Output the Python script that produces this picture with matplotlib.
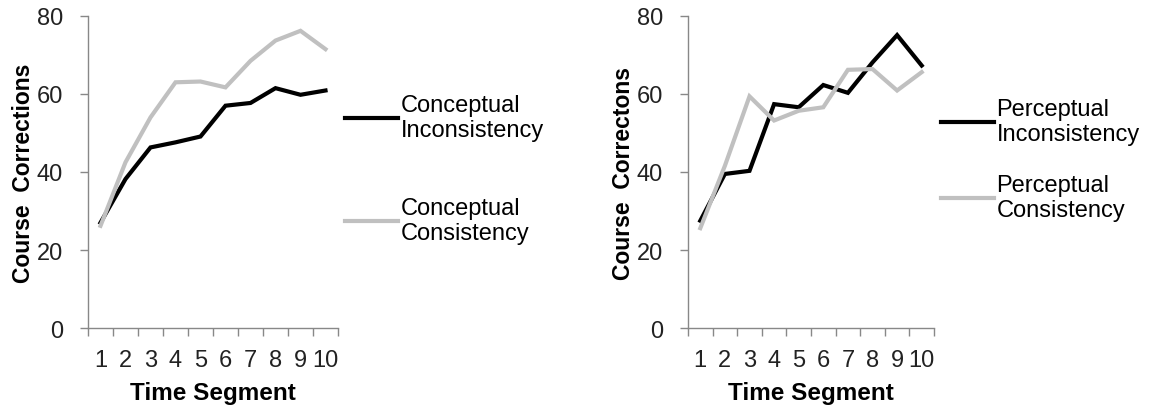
import matplotlib.pyplot as plt
import numpy as np

plt.rcParams['font.family'] = ['Liberation Sans', 'DejaVu Sans']

segments = list(range(1, 11))

concept_incons = [27, 38.2, 46.3, 47.6, 49.1, 57, 57.7, 61.5, 59.8, 60.9]
concept_cons = [26.2, 42.5, 54, 63, 63.2, 61.7, 68.5, 73.7, 76.2, 71.5]

percept_incons = [27.5, 39.5, 40.3, 57.4, 56.6, 62.3, 60.3, 68.1, 75.1, 67.3]
percept_cons = [25.6, 41.6, 59.4, 53.2, 55.7, 56.6, 66.2, 66.4, 60.9, 65.6]

panels = [
    ("Course  Corrections", concept_incons, concept_cons,
     "Conceptual\nInconsistency", "Conceptual\nConsistency", 2.35, 0.51),
    ("Course  Correctons", percept_incons, percept_cons,
     "Perceptual\nInconsistency", "Perceptual\nConsistency", 1.2, 0.54),
]

fig = plt.figure(figsize=(11.53, 4.10), dpi=100)
lefts = [88 / 1153, 688 / 1153]
widths = [250 / 1153, 246 / 1153]

for i, (ylab, black, gray, lab_b, lab_g, spacing, ycen) in enumerate(panels):
    ax = fig.add_axes([lefts[i], 1 - 329 / 410, widths[i], 312 / 410])
    ax.plot(segments, black, color='black', lw=3, label=lab_b, solid_joinstyle='miter')
    ax.plot(segments, gray, color='#c0c0c0', lw=3, label=lab_g, solid_joinstyle='miter')

    ax.set_xlim(0.5, 10.5)
    ax.set_ylim(0, 80)
    ax.set_yticks([0, 20, 40, 60, 80])
    ax.set_xticks(segments)
    ax.set_xticks(np.arange(0.5, 11, 1), minor=True)
    ax.tick_params(axis='x', which='major', length=0, pad=15, labelsize=17, labelcolor='#222222')
    ax.tick_params(axis='x', which='minor', length=6, color='#888888', width=1)
    ax.tick_params(axis='y', length=6, color='#888888', width=1, pad=12,
                   labelsize=17, labelcolor='#222222')

    for s in ['top', 'right']:
        ax.spines[s].set_visible(False)
    for s in ['left', 'bottom']:
        ax.spines[s].set_color('#888888')
        ax.spines[s].set_linewidth(1)

    ax.set_xlabel("Time Segment", fontsize=17.5, fontweight='bold', labelpad=7)
    ax.set_ylabel(ylab, fontsize=16.5, fontweight='bold', labelpad=1.5)

    ax.legend(loc='center left', bbox_to_anchor=(1.0, ycen), frameon=False,
              fontsize=17, handlelength=2.25, handletextpad=0.1,
              labelspacing=spacing, borderaxespad=0.3, borderpad=0)

plt.savefig("out.png", dpi=100)
